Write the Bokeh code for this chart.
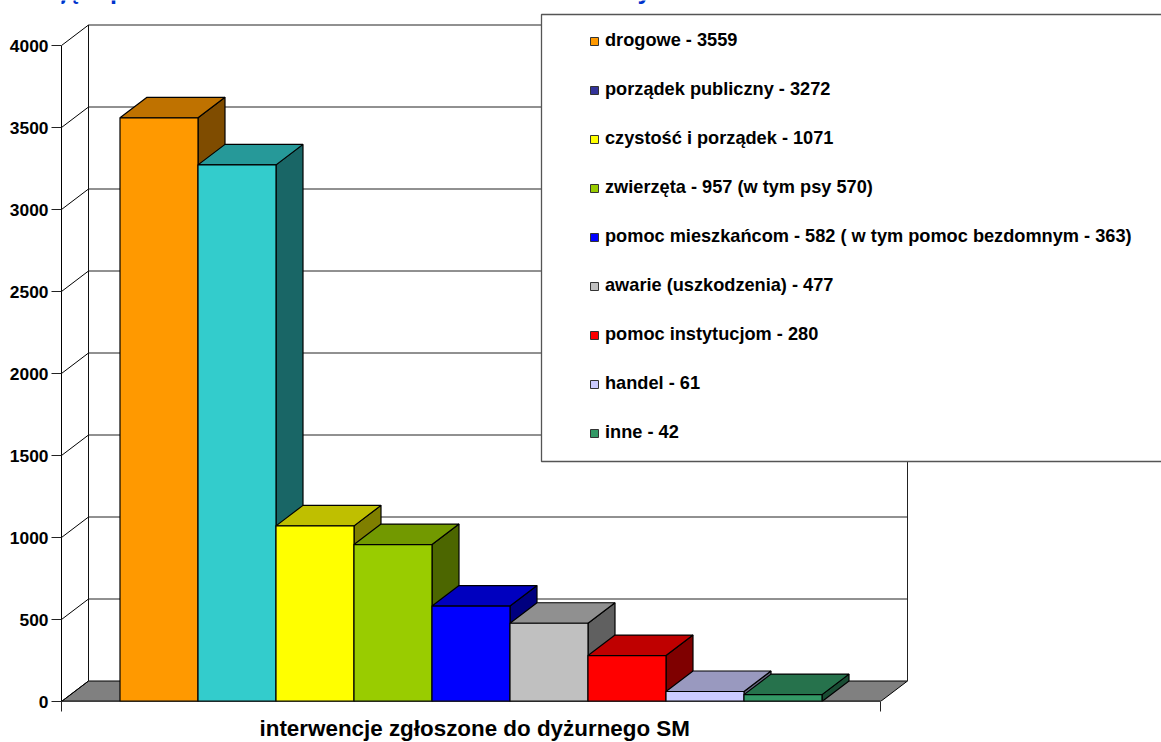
from bokeh.plotting import figure
from bokeh.models import Range1d, Legend, LegendItem, LinearAxis, FixedTicker, Label, Title
from bokeh.embed import file_html
from bokeh.resources import INLINE

categories = ["drogowe", "porządek publiczny", "czystość i porządek", "zwierzęta", "pomoc mieszkańcom",
              "awarie (uszkodzenia)", "pomoc instytucjom", "handel", "inne"]
values = [3559, 3272, 1071, 957, 582, 477, 280, 61, 42]
bar_colors = ["#FF9900", "#33CCCC", "#FFFF00", "#99CC00", "#0000FF", "#C0C0C0", "#FF0000", "#CCCCFF", "#339966"]
legend_colors = ["#FF9900", "#333399", "#FFFF00", "#99CC00", "#0000FF", "#C0C0C0", "#FF0000", "#CCCCFF", "#339966"]
legend_labels = ["drogowe - 3559", "porządek publiczny - 3272", "czystość i porządek - 1071",
                 "zwierzęta - 957 (w tym psy 570)", "pomoc mieszkańcom - 582 ( w tym pomoc bezdomnym - 363)",
                 "awarie (uszkodzenia) - 477", "pomoc instytucjom - 280", "handel - 61", "inne - 42"]
y_ticks = [0, 500, 1000, 1500, 2000, 2500, 3000, 3500, 4000]
axis_title = "interwencje zgłoszone do dyżurnego SM"
FONT = "Liberation Sans"

W, H = 1161, 742
L, T, B = 61, 0, 701
PX_X = 78.0                # px per category
PX_Y = 656 / 4000          # px per value unit
X0 = 119.5                 # px of first bar's left edge
DX = 27 / PX_X             # 3D depth in x units
DY = 20.5 / PX_Y           # 3D depth in y units
MARG = (X0 - L) / PX_X
xs, xe = -MARG, len(values) + MARG


def shade(c, f):
    r, g, b = int(c[1:3], 16), int(c[3:5], 16), int(c[5:7], 16)
    return "#%02X%02X%02X" % (int(r * f), int(g * f), int(b * f))


p = figure(width=W, height=H, output_backend="svg", toolbar_location=None,
           x_range=Range1d(xs, xs + (W - L) / PX_X), y_range=Range1d(0, (B - T) / PX_Y),
           x_axis_type=None, y_axis_type=None,
           min_border_left=L, min_border_right=0, min_border_top=T, min_border_bottom=H - B,
           outline_line_color=None, background_fill_color="white", border_fill_color="white")
p.grid.visible = False

# floor
p.patch([xs, xs + DX, xe + DX, xe], [0, DY, DY, 0], fill_color="#808080", line_color="#000000", line_width=1)
# walls and grid
wall = dict(line_color="#222222", line_width=1)
for t in y_ticks[1:]:
    p.line([xs + DX, xe + DX], [t + DY, t + DY], **wall)
for t in y_ticks:
    p.line([xs, xs + DX], [t, t + DY], line_color="#000000", line_width=1)
p.line([xs + DX, xs + DX], [DY, 4000 + DY], line_color="#111111", line_width=1)
p.line([xe + DX, xe + DX], [DY, 4000 + DY], **wall)

# bars
edge = dict(line_color="#000000", line_width=1.2)
for i, (v, c) in enumerate(zip(values, bar_colors)):
    a, b = i, i + 1
    p.patch([b, b + DX, b + DX, b], [0, DY, v + DY, v], fill_color=shade(c, 0.5), **edge)
    p.patch([a, a + DX, b + DX, b], [v, v + DY, v + DY, v], fill_color=shade(c, 0.75), **edge)
    p.quad(left=a, right=b, bottom=0, top=v, fill_color=c, **edge)

p.line([xs, xe], [0, 0], line_color="#111111", line_width=2)

# legend box
p.quad(left=(541 - X0) / PX_X, right=16, top=(B - 14) / PX_Y, bottom=(B - 461) / PX_Y,
       fill_color="white", line_color="#555555", line_width=1.3)

# axes
ya = LinearAxis(ticker=FixedTicker(ticks=y_ticks), bounds=(0, 4000))
ya.axis_line_color = "#000000"
ya.major_tick_line_color = "#222222"
ya.major_tick_in = 0
ya.major_tick_out = 10
ya.minor_tick_line_color = None
ya.major_label_standoff = 3
ya.major_label_text_font = FONT
ya.major_label_text_font_style = "bold"
ya.major_label_text_font_size = "17.4px"
ya.major_label_text_color = "#000000"
p.add_layout(ya, "left")

xa = LinearAxis(ticker=FixedTicker(ticks=[xs, xe]), bounds=(xs, xe))
xa.axis_line_color = None
xa.major_tick_line_color = "#222222"
xa.major_tick_in = 0
xa.major_tick_out = 10
xa.minor_tick_line_color = None
xa.major_label_text_color = None
xa.major_label_text_font_size = "1px"
xa.major_label_standoff = 0
p.add_layout(xa, "below")

p.add_layout(Title(text=axis_title, align="left", offset=198, text_font=FONT, text_font_style="bold",
                   text_font_size="22.4px", text_color="#000000", standoff=4), "below")

# clipped title fragments along the top edge
for txt, px in [("przyjęte p", 8), ("y", 637)]:
    p.add_layout(Label(x=(px - X0) / PX_X, y=(B + 11) / PX_Y, text=txt, text_align="left",
                       text_baseline="alphabetic", text_font=FONT, text_font_style="bold",
                       text_font_size="25px", text_color="#0033CC", level="overlay"))

# legend
items = []
for lab, c in zip(legend_labels, legend_colors):
    r = p.quad(left=[float("nan")], right=[float("nan")], top=[float("nan")], bottom=[float("nan")],
               fill_color=c, line_color="#333333")
    items.append(LegendItem(label=lab, renderers=[r]))
leg = Legend(items=items, location=(589 - L, B - 443), orientation="vertical",
             padding=0, margin=0, spacing=28, glyph_width=10, glyph_height=10, label_height=20, label_standoff=6,
             label_text_font=FONT, label_text_font_style="bold", label_text_font_size="18.2px",
             label_text_color="#000000", border_line_color=None, background_fill_alpha=0)
p.add_layout(leg)

open("out.html", "w").write(file_html(p, INLINE))
